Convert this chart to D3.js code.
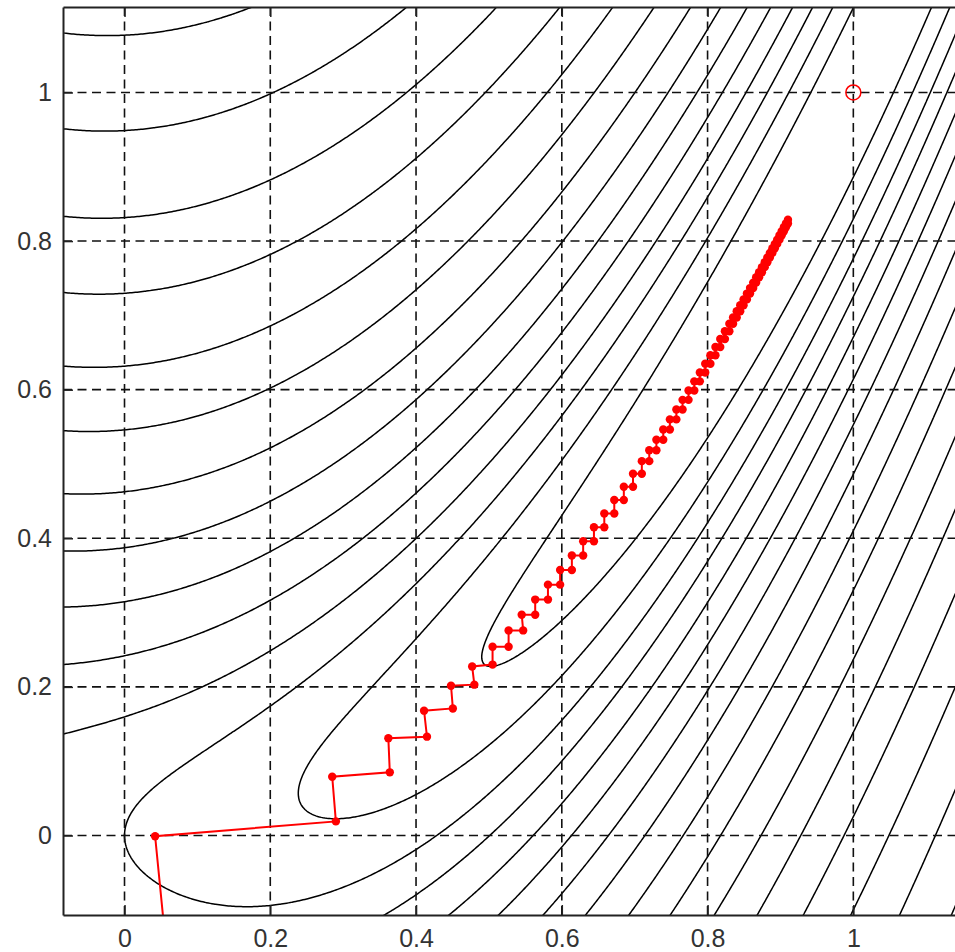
<!DOCTYPE html>
<html>
<head>
<meta charset="utf-8">
<script src="https://cdn.jsdelivr.net/npm/d3@7"></script>
<style>
  html, body { margin: 0; padding: 0; background: #fff; }
  svg { display: block; }
  .axis text { font-family: "Liberation Sans", Arial, sans-serif; font-size: 25px; fill: #333; }
</style>
</head>
<body>
<svg id="chart" width="955" height="952"></svg>
<script>
// axis limits and ticks
const xLimits = [-0.0844, 1.1395];
const yLimits = [-0.107, 1.115];
const xTicks = [0, 0.2, 0.4, 0.6, 0.8, 1];
const yTicks = [0, 0.2, 0.4, 0.6, 0.8, 1];

// surface: valleyWeight*(y - x^2)^2 + (1 - x)^2
const valleyWeight = 20;
// contour levels
const levels = [0.26, 0.58, 1.0, 1.51, 2.17, 2.98, 4.0, 5.28, 6.96, 8.98, 11.65, 14.83, 19.0, 24.2, 30.66, 38.9];

// descent path (x, y)
const descentPath = [
  [0.057, -0.15], [0.042, -0.001], [0.290, 0.019], [0.285, 0.079], [0.364, 0.085], [0.362, 0.131],
  [0.415, 0.133], [0.411, 0.168], [0.4505, 0.171], [0.448, 0.2015], [0.480, 0.203], [0.477, 0.2275],
  [0.505, 0.230], [0.505, 0.254], [0.527, 0.254], [0.527, 0.276], [0.547, 0.276], [0.545, 0.297],
  [0.5635, 0.297], [0.5635, 0.3175],
  [0.5810, 0.3175], [0.5810, 0.3376], [0.5977, 0.3376], [0.5977, 0.3573],
  [0.6138, 0.3573], [0.6138, 0.3768], [0.6293, 0.3768], [0.6293, 0.3960],
  [0.6441, 0.3960], [0.6441, 0.4149], [0.6583, 0.4149], [0.6583, 0.4334],
  [0.6720, 0.4334], [0.6720, 0.4516], [0.6851, 0.4516], [0.6851, 0.4694],
  [0.6977, 0.4694], [0.6977, 0.4868], [0.7098, 0.4868], [0.7098, 0.5038],
  [0.7200, 0.5038], [0.7200, 0.5184], [0.7298, 0.5184], [0.7298, 0.5326],
  [0.7392, 0.5326], [0.7392, 0.5464], [0.7483, 0.5464], [0.7483, 0.5600],
  [0.7572, 0.5600], [0.7572, 0.5734], [0.7657, 0.5734], [0.7657, 0.5863],
  [0.7739, 0.5863], [0.7739, 0.5989], [0.7818, 0.5989], [0.7818, 0.6112],
  [0.7894, 0.6112], [0.7894, 0.6232], [0.7968, 0.6232], [0.7968, 0.6349],
  [0.8039, 0.6349], [0.8039, 0.6463], [0.8108, 0.6463], [0.8108, 0.6574],
  [0.8174, 0.6574], [0.8174, 0.6681], [0.8238, 0.6681], [0.8238, 0.6787],
  [0.8299, 0.6787], [0.8299, 0.6887], [0.8350, 0.6887], [0.8350, 0.6972],
  [0.8400, 0.6972], [0.8400, 0.7056], [0.8448, 0.7056], [0.8448, 0.7137],
  [0.8494, 0.7137], [0.8494, 0.7215], [0.8540, 0.7215], [0.8540, 0.7293],
  [0.8583, 0.7293], [0.8583, 0.7367], [0.8626, 0.7367], [0.8626, 0.7441],
  [0.8667, 0.7441], [0.8667, 0.7512], [0.8707, 0.7512], [0.8707, 0.7581],
  [0.8746, 0.7581], [0.8746, 0.7649], [0.8784, 0.7649], [0.8784, 0.7716],
  [0.8820, 0.7716], [0.8820, 0.7779], [0.8855, 0.7779], [0.8855, 0.7841],
  [0.8890, 0.7841], [0.8890, 0.7903], [0.8923, 0.7903], [0.8923, 0.7962],
  [0.8955, 0.7962], [0.8955, 0.8019], [0.8987, 0.8019], [0.8987, 0.8077],
  [0.9017, 0.8077], [0.9017, 0.8131], [0.9047, 0.8131], [0.9047, 0.8185],
  [0.9075, 0.8185], [0.9075, 0.8236], [0.9103, 0.8236], [0.9103, 0.8287]
];
const minimum = [1, 1];

const plot = { left: 63, top: 7, right: 955, bottom: 915 };

const svg = d3.select('#chart');

const x = d3.scaleLinear().domain(xLimits).range([plot.left, plot.right]);
const y = d3.scaleLinear().domain(yLimits).range([plot.bottom, plot.top]);

svg.append('clipPath').attr('id', 'clip')
  .append('rect')
  .attr('x', plot.left).attr('y', plot.top)
  .attr('width', plot.right - plot.left + 5)
  .attr('height', plot.bottom - plot.top);

const body = svg.append('g').attr('clip-path', 'url(#clip)');

// sample the surface on a grid a bit larger than the view
const step = 0.0025;
const gx0 = -0.2, gy0 = -0.25;
const nx = Math.round((1.25 - gx0) / step) + 1;
const ny = Math.round((1.25 - gy0) / step) + 1;
const values = new Float64Array(nx * ny);
for (let j = 0; j < ny; j++) {
  const yy = gy0 + j * step;
  for (let i = 0; i < nx; i++) {
    const xx = gx0 + i * step;
    values[i + j * nx] = valleyWeight * (yy - xx * xx) ** 2 + (1 - xx) ** 2;
  }
}

const contours = d3.contours().size([nx, ny]).thresholds(levels)(values);

const gridToPx = d3.geoTransform({
  point: function(px, py) {
    this.stream.point(x(gx0 + (px - 0.5) * step), y(gy0 + (py - 0.5) * step));
  }
});
const contourPath = d3.geoPath(gridToPx);

body.append('g')
  .selectAll('path')
  .data(contours)
  .enter()
  .append('path')
  .attr('d', contourPath)
  .attr('fill', 'none')
  .attr('stroke', '#000')
  .attr('stroke-width', 1.5);

// dashed grid
const grid = body.append('g')
  .attr('stroke', '#111')
  .attr('stroke-width', 1.6)
  .attr('stroke-dasharray', '9,5.5');

grid.selectAll('.vgrid')
  .data(xTicks)
  .enter()
  .append('line')
  .attr('x1', d => x(d)).attr('x2', d => x(d))
  .attr('y1', plot.top).attr('y2', plot.bottom);

grid.selectAll('.hgrid')
  .data(yTicks)
  .enter()
  .append('line')
  .attr('x1', plot.left).attr('x2', plot.right)
  .attr('y1', d => y(d)).attr('y2', d => y(d));

// descent path
const line = d3.line()
  .x(d => x(d[0]))
  .y(d => y(d[1]));

body.append('path')
  .datum(descentPath)
  .attr('d', line)
  .attr('fill', 'none')
  .attr('stroke', '#ff0000')
  .attr('stroke-width', 2);

body.append('g')
  .selectAll('circle')
  .data(descentPath.slice(1))
  .enter()
  .append('circle')
  .attr('cx', d => x(d[0]))
  .attr('cy', d => y(d[1]))
  .attr('r', 4.2)
  .attr('fill', '#ff0000');

body.append('circle')
  .attr('cx', x(minimum[0]))
  .attr('cy', y(minimum[1]))
  .attr('r', 7.5)
  .attr('fill', 'none')
  .attr('stroke', '#ff0000')
  .attr('stroke-width', 1.5);

// axes with inward ticks
const fmt = d => String(d);

const xAxis = svg.append('g')
  .attr('class', 'axis')
  .attr('transform', `translate(0,${plot.bottom})`)
  .call(d3.axisBottom(x).tickValues(xTicks).tickFormat(fmt).tickSizeInner(-10).tickSizeOuter(0).tickPadding(14));

const topAxis = svg.append('g')
  .attr('class', 'axis')
  .attr('transform', `translate(0,${plot.top})`)
  .call(d3.axisTop(x).tickValues(xTicks).tickFormat('').tickSizeInner(-10).tickSizeOuter(0));

const yAxis = svg.append('g')
  .attr('class', 'axis')
  .attr('transform', `translate(${plot.left},0)`)
  .call(d3.axisLeft(y).tickValues(yTicks).tickFormat(fmt).tickSizeInner(-10).tickSizeOuter(0).tickPadding(11));

svg.selectAll('.axis .domain').attr('stroke', '#222').attr('stroke-width', 2);
svg.selectAll('.axis .tick line').attr('stroke', '#222').attr('stroke-width', 1.5);
svg.selectAll('.axis text').attr('fill', '#333');
</script>
</body>
</html>
